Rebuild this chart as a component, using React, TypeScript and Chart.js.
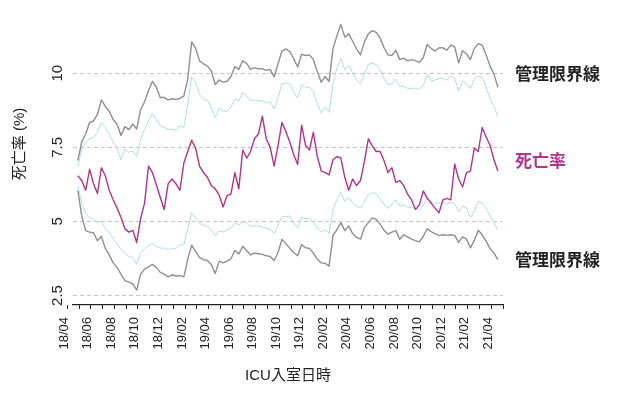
import React, { useEffect, useRef } from 'react';
import { Chart, registerables } from 'chart.js';

Chart.register(...registerables);

// x positions: months after 2018/04, one sample every third of a month
const START_MONTH = 0.9;
const STEP_MONTH = 1 / 3;

const MONTH_LABELS = ['18/04', '18/06', '18/08', '18/10', '18/12', '19/02', '19/04', '19/06', '19/08', '19/10', '19/12', '20/02', '20/04', '20/06', '20/08', '20/10', '20/12', '21/02', '21/04'];
const Y_TICKS = [2.5, 5, 7.5, 10];
const X_TITLE = 'ICU入室日時';
const Y_TITLE = '死亡率 (%)';
const LIMIT_LABEL = '管理限界線';
const RATE_LABEL = '死亡率';

const mortality = [
  6.54, 6.38, 6.05, 6.76, 6.27, 5.94, 6.81, 6.54, 6.05, 5.73,
  5.45, 5.13, 4.75, 4.64, 4.70, 4.29, 5.10, 5.62, 6.87, 6.65,
  6.24, 5.81, 5.40, 6.27, 6.43, 6.27, 6.05, 6.97, 7.36, 7.74,
  7.47, 6.87, 6.65, 6.49, 6.21, 6.10, 5.89, 5.49, 5.87, 5.92,
  6.65, 6.10, 7.41, 7.14, 7.36, 7.79, 7.95, 8.55, 7.79, 7.50,
  6.87, 7.57, 8.34, 8.03, 7.68, 7.25, 6.92, 8.25, 7.57, 7.41,
  8.01, 7.19, 6.70, 6.65, 6.57, 7.08, 7.19, 7.14, 6.49, 6.05,
  6.43, 6.21, 6.38, 7.03, 7.79, 7.55, 7.36, 7.36, 7.05, 6.65,
  6.81, 6.32, 6.38, 6.21, 5.92, 5.73, 5.40, 5.56, 6.03, 5.78,
  5.62, 5.45, 5.29, 5.73, 5.78, 5.73, 6.94, 6.43, 6.16, 6.65,
  6.70, 7.47, 7.36, 8.17, 7.85, 7.57, 7.08, 6.70,
];

const upper3 = [
  7.05, 7.68, 7.95, 8.34, 8.39, 8.61, 9.10, 8.88, 8.72, 8.44,
  8.28, 7.90, 8.20, 8.10, 8.28, 8.12, 8.77, 9.04, 9.42, 9.73,
  9.53, 9.18, 9.18, 9.10, 9.14, 9.12, 9.15, 9.23, 9.80, 11.06,
  10.84, 10.42, 10.32, 10.24, 10.08, 9.62, 9.77, 9.70, 9.73, 9.88,
  10.23, 10.13, 10.42, 10.33, 10.13, 10.19, 10.15, 10.15, 10.10, 10.13,
  9.88, 10.32, 10.75, 10.82, 10.73, 10.49, 10.21, 10.64, 10.60, 10.62,
  10.46, 10.06, 9.70, 9.89, 9.72, 10.84, 11.27, 11.65, 11.22, 11.33,
  11.08, 10.82, 10.62, 11.06, 11.33, 11.44, 11.38, 11.19, 10.86, 10.62,
  10.60, 10.78, 10.46, 10.51, 10.42, 10.46, 10.42, 10.37, 10.53, 10.97,
  10.84, 10.75, 10.86, 10.86, 10.78, 10.95, 10.89, 10.35, 10.76, 10.66,
  10.46, 10.84, 11.00, 10.95, 10.62, 10.24, 9.97, 9.53,
];

const upper2 = [
  6.85, 7.45, 7.68, 7.79, 7.84, 8.01, 8.35, 8.17, 7.95, 7.68,
  7.47, 7.08, 7.44, 7.33, 7.38, 7.19, 7.79, 8.10, 8.39, 8.64,
  8.44, 8.23, 8.17, 8.10, 8.12, 8.07, 8.23, 8.17, 8.95, 9.88,
  9.70, 9.29, 9.12, 9.08, 8.85, 8.50, 8.83, 8.72, 8.72, 8.86,
  9.14, 9.06, 9.34, 9.24, 9.07, 9.10, 9.08, 9.07, 9.00, 9.04,
  8.79, 9.17, 9.66, 9.66, 9.64, 9.35, 9.17, 9.62, 9.53, 9.53,
  9.37, 8.99, 8.66, 8.86, 8.68, 9.64, 10.19, 10.51, 10.13, 10.27,
  10.02, 9.77, 9.64, 9.97, 10.29, 10.35, 10.29, 10.11, 9.82, 9.62,
  9.64, 9.80, 9.57, 9.55, 9.49, 9.49, 9.50, 9.45, 9.59, 9.95,
  9.75, 9.77, 9.83, 9.83, 9.77, 9.91, 9.84, 9.40, 9.73, 9.64,
  9.48, 9.80, 9.91, 9.86, 9.53, 9.15, 8.88, 8.55,
];

const lower2 = [
  6.20, 5.62, 5.29, 5.12, 5.07, 4.96, 5.02, 4.74, 4.64, 4.42,
  4.26, 4.04, 3.93, 3.82, 3.77, 3.55, 3.93, 4.09, 4.18, 4.26,
  4.15, 4.10, 4.10, 4.05, 4.08, 4.10, 4.22, 4.20, 4.75, 5.29,
  5.12, 4.94, 4.87, 4.83, 4.71, 4.51, 4.68, 4.64, 4.72, 4.78,
  4.95, 4.88, 4.98, 4.95, 4.83, 4.85, 4.84, 4.81, 4.77, 4.74,
  4.60, 4.88, 5.16, 5.17, 5.18, 4.94, 4.77, 5.15, 5.09, 5.12,
  4.96, 4.77, 4.64, 4.72, 4.60, 5.40, 5.75, 6.00, 5.67, 5.81,
  5.62, 5.50, 5.45, 5.67, 5.90, 5.97, 5.94, 5.76, 5.57, 5.44,
  5.60, 5.72, 5.52, 5.55, 5.48, 5.47, 5.45, 5.40, 5.55, 5.78,
  5.66, 5.60, 5.62, 5.62, 5.58, 5.64, 5.60, 5.32, 5.52, 5.45,
  5.13, 5.34, 5.67, 5.62, 5.45, 5.18, 4.96, 4.69,
];

const lower3 = [
  6.05, 5.18, 4.69, 4.64, 4.62, 4.35, 4.50, 4.09, 3.87, 3.60,
  3.44, 3.22, 3.00, 2.95, 2.89, 2.68, 3.22, 3.39, 3.47, 3.55,
  3.44, 3.28, 3.22, 3.13, 3.20, 3.16, 3.17, 3.13, 3.72, 4.20,
  3.98, 3.79, 3.71, 3.68, 3.55, 3.24, 3.66, 3.60, 3.66, 3.74,
  4.02, 3.90, 4.16, 4.02, 3.87, 3.93, 3.91, 3.89, 3.84, 3.82,
  3.68, 3.95, 4.40, 4.25, 4.09, 3.95, 3.84, 4.22, 4.11, 4.09,
  3.93, 3.73, 3.60, 3.59, 3.49, 4.53, 4.72, 4.96, 4.69, 4.85,
  4.59, 4.46, 4.40, 4.79, 4.96, 5.12, 5.07, 4.91, 4.70, 4.57,
  4.64, 4.69, 4.40, 4.55, 4.48, 4.40, 4.35, 4.31, 4.50, 4.75,
  4.66, 4.58, 4.53, 4.55, 4.53, 4.55, 4.53, 4.29, 4.48, 4.40,
  4.11, 4.36, 4.70, 4.55, 4.33, 4.09, 3.93, 3.71,
];

const GRAY = '#8e8e8e';
const BLUE = '#abdcef';
const MAGENTA = '#b2338a';
const TEXT = '#222222';
const FONT = '"Liberation Sans", Arial, "Noto Sans CJK JP", sans-serif';
const CJK_FONT = '"Noto Sans CJK JP", "Liberation Sans", sans-serif';

const sideText = {
  id: 'sideText',
  afterDraw(chart: any) {
    const { ctx } = chart;
    ctx.save();
    ctx.fillStyle = TEXT;
    ctx.textAlign = 'center';
    ctx.textBaseline = 'middle';
    ctx.font = `15px ${FONT}`;
    ctx.translate(20, 144);
    ctx.rotate(-Math.PI / 2);
    ctx.fillText(Y_TITLE, 0, 0);
    ctx.restore();

    ctx.save();
    ctx.textAlign = 'left';
    ctx.textBaseline = 'middle';
    ctx.font = `bold 17px ${CJK_FONT}`;
    ctx.fillStyle = TEXT;
    ctx.fillText(LIMIT_LABEL, 515, 74);
    ctx.fillText(LIMIT_LABEL, 515, 260);
    ctx.fillStyle = MAGENTA;
    ctx.fillText(RATE_LABEL, 515, 161);
    ctx.restore();
  },
};

export default function App() {
  const ref = useRef<HTMLCanvasElement>(null);

  useEffect(() => {
    const pts = (arr: number[]) => arr.map((v, i) => ({ x: START_MONTH + i * STEP_MONTH, y: v }));
    const chart = new Chart(ref.current as HTMLCanvasElement, {
      type: 'line',
      data: {
        datasets: [
          { label: RATE_LABEL, data: pts(mortality), borderColor: MAGENTA, borderWidth: 1.4 },
          { label: '2σ上限', data: pts(upper2), borderColor: BLUE, borderWidth: 1 },
          { label: '2σ下限', data: pts(lower2), borderColor: BLUE, borderWidth: 1 },
          { label: LIMIT_LABEL + '上限', data: pts(upper3), borderColor: GRAY, borderWidth: 1.4 },
          { label: LIMIT_LABEL + '下限', data: pts(lower3), borderColor: GRAY, borderWidth: 1.4 },
        ],
      },
      options: {
        responsive: false,
        animation: false,
        devicePixelRatio: 1,
        layout: { padding: { top: 4, right: 118, bottom: 0, left: 0 } },
        elements: {
          point: { radius: 0 },
          line: { tension: 0, borderJoinStyle: 'round', fill: false },
        },
        plugins: { legend: { display: false }, tooltip: { enabled: false } },
        scales: {
          x: {
            type: 'linear',
            min: 0.49,
            max: 37,
            afterBuildTicks: (scale: any) => {
              const t = [];
              for (let m = 0; m <= 37; m++) t.push({ value: m });
              scale.ticks = t;
            },
            afterFit: (scale: any) => {
              scale.height = 91;
            },
            grid: { drawOnChartArea: false, drawTicks: true, tickLength: 4, color: TEXT, lineWidth: 1 },
            border: { display: true, color: TEXT, width: 1.2 },
            ticks: {
              autoSkip: false,
              maxRotation: 90,
              minRotation: 90,
              padding: 8,
              labelOffset: -3,
              color: TEXT,
              font: { size: 13, family: FONT },
              callback: (value: any) => {
                const m = Math.round(Number(value));
                return m % 2 === 0 && m / 2 < MONTH_LABELS.length ? MONTH_LABELS[m / 2] : '';
              },
            },
            title: {
              display: true,
              text: X_TITLE,
              color: TEXT,
              font: { size: 15, family: FONT },
              padding: { top: 0, bottom: 11 },
            },
          },
          y: {
            type: 'linear',
            min: 2.18,
            max: 12,
            afterBuildTicks: (scale: any) => {
              scale.ticks = Y_TICKS.map((v) => ({ value: v }));
            },
            afterFit: (scale: any) => {
              scale.width = 73;
            },
            grid: { drawTicks: false, color: '#c4c4c4', lineWidth: 1 },
            border: { display: false, dash: [4, 3] },
            ticks: {
              minRotation: 90,
              maxRotation: 90,
              crossAlign: 'center',
              padding: 5,
              color: TEXT,
              font: { size: 15, family: FONT },
              callback: (value: any) => String(value),
            },
          },
        },
      },
      plugins: [sideText],
    } as any);
    return () => chart.destroy();
  }, []);

  return (
    <div style={{ position: 'absolute', left: 0, top: 0, width: 621, height: 396, background: '#ffffff' }}>
      <canvas ref={ref} width={621} height={396} style={{ display: 'block' }} />
    </div>
  );
}
